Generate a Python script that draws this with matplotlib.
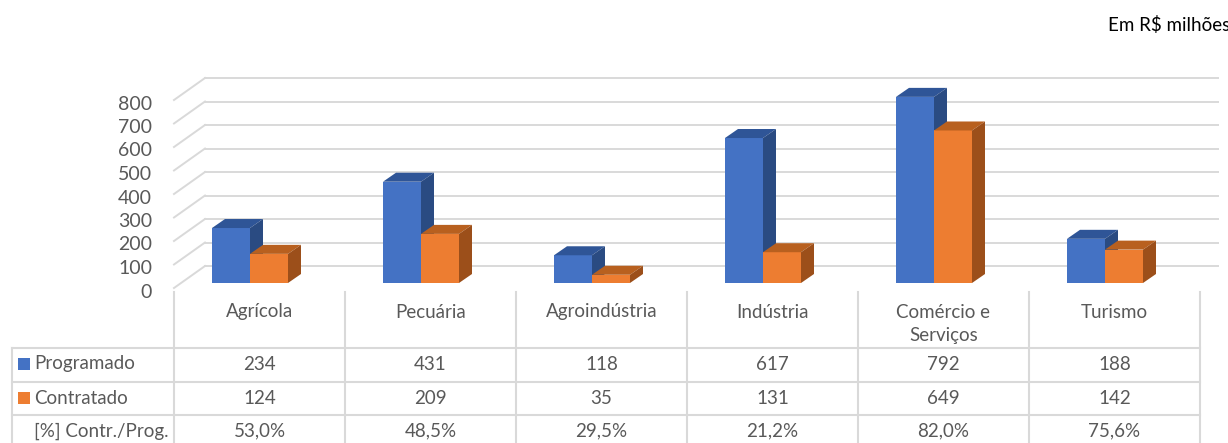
import matplotlib
matplotlib.use("Agg")
import matplotlib.pyplot as plt
import matplotlib.transforms as mtransforms
from matplotlib.patches import Polygon, Rectangle

# ---------------- data ----------------
categories = ["Agrícola", "Pecuária", "Agroindústria", "Indústria", "Comércio e\nServiços", "Turismo"]
programado = [234, 431, 118, 617, 792, 188]
contratado = [124, 209, 35, 131, 649, 142]
percent_labels = ["53,0%", "48,5%", "29,5%", "21,2%", "82,0%", "75,6%"]
series_names = ["Programado", "Contratado", "[%] Contr./Prog."]
yticks = [0, 100, 200, 300, 400, 500, 600, 700, 800]
unit_note = "Em R$ milhões"

# ---------------- style ----------------
W, H, DPI = 1228, 443, 100
FONT = ["Lato", "DejaVu Sans"]
TXT = "#595959"
GRID = "#d9d9d9"
BLUE = ("#4472C4", "#2F5597", "#2A4B82")      # front, top, side
ORANGE = ("#ED7D31", "#B8601F", "#9C4F1A")
TFS = 13.5

plt.rcParams["font.family"] = FONT

fig = plt.figure(figsize=(W / DPI, H / DPI), dpi=DPI)

# overlay axes in pixel units for layout elements
ov = fig.add_axes([0, 0, 1, 1])
ov.set_xlim(0, W)
ov.set_ylim(H, 0)
ov.axis("off")

# main chart axes: x = category index, y = value
px_left, px_right = 174, 1200
px_base, px_top_axes = 283, 0
px_per_unit = 0.235
ax_bottom_px = 292
ax = fig.add_axes([px_left / W, (H - ax_bottom_px) / H, (px_right - px_left) / W, (ax_bottom_px - px_top_axes) / H])
n = len(categories)
ax.set_xlim(-0.5, n - 0.5)
ax.set_ylim(-(ax_bottom_px - px_base) / px_per_unit, (px_base - px_top_axes) / px_per_unit)
ax.axis("off")

col_px = (px_right - px_left) / n
def dx(p):  # pixels -> x data units
    return p / col_px
def dy(p):  # pixels -> y data units
    return p / px_per_unit

# back wall / gridlines
front_x, back_x, right_x = -0.5, -0.5 + dx(31), n - 0.5 + dx(18)
front_off, back_off, label_off = -dy(5), dy(17), -dy(9)
for v in yticks:
    ax.plot([front_x, back_x], [v + front_off, v + back_off], color=GRID, lw=1.4, clip_on=False, zorder=1)
    ax.plot([back_x, right_x], [v + back_off, v + back_off], color=GRID, lw=1.4, clip_on=False, zorder=1)
    ax.text(front_x - dx(22), v + label_off, str(v), ha="right", va="center", fontsize=14, color=TXT)

# 3D bars
bar_w = dx(38)
depth_x, depth_y = dx(13), dy(9)
first_left = dx(212 - px_left) - 0.5

def cuboid(x0, w, h, cols, z):
    front = Rectangle((x0, 0), w, h, facecolor=cols[0], edgecolor="none", zorder=z)
    top = Polygon([(x0, h), (x0 + w, h), (x0 + w + depth_x, h + depth_y), (x0 + depth_x, h + depth_y)],
                  closed=True, facecolor=cols[1], edgecolor="none", zorder=z)
    side = Polygon([(x0 + w, 0), (x0 + w + depth_x, depth_y), (x0 + w + depth_x, h + depth_y), (x0 + w, h)],
                   closed=True, facecolor=cols[2], edgecolor="none", zorder=z)
    for p in (front, top, side):
        ax.add_patch(p)

for i in range(n):
    cuboid(i + first_left, bar_w, programado[i], BLUE, 3)
    cuboid(i + first_left + bar_w, bar_w, contratado[i], ORANGE, 4)

# ---------------- data table ----------------
bt = mtransforms.blended_transform_factory(ax.transData, ov.transData)
row_lines = [348, 382, 415]
table_left = 12
header_top = 292
table_bottom = H + 2
for k in range(n + 1):
    ov.plot([k - 0.5, k - 0.5], [header_top, table_bottom], color=GRID, lw=1.5, transform=bt, clip_on=False)
ov.plot([table_left, table_left], [row_lines[0], table_bottom], color=GRID, lw=1.5)
for y in row_lines:
    ov.plot([table_left, px_right], [y, y], color=GRID, lw=1.5)

row_centers = [364, 398, 431]
for i, cat in enumerate(categories):
    for j, line in enumerate(cat.split("\n")):
        ov.text(i, 312 + 24 * j, line, transform=bt, ha="center", va="center", fontsize=TFS, color=TXT)
    ov.text(i, row_centers[0], str(programado[i]), transform=bt, ha="center", va="center", fontsize=TFS, color=TXT)
    ov.text(i, row_centers[1], str(contratado[i]), transform=bt, ha="center", va="center", fontsize=TFS, color=TXT)
    ov.text(i, row_centers[2], percent_labels[i], transform=bt, ha="center", va="center", fontsize=TFS, color=TXT)

key_cols = [BLUE[0], ORANGE[0], None]
for name, yc, kc in zip(series_names, row_centers, key_cols):
    if kc:
        ov.add_patch(Rectangle((18, yc - 6), 12, 12, facecolor=kc, edgecolor="none"))
    ov.text(34, yc, name, ha="left", va="center", fontsize=TFS, color=TXT)

ov.text(1108, 25, unit_note, ha="left", va="center", fontsize=13.5, color="black")

fig.savefig("out.png", dpi=DPI)
